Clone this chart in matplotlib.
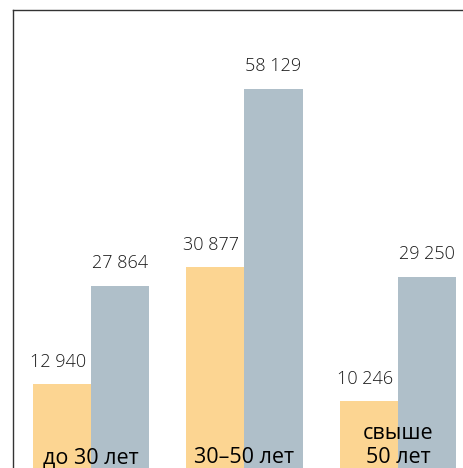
import numpy as np
import matplotlib.pyplot as plt
from matplotlib.transforms import offset_copy

plt.rcParams['font.family'] = ['Open Sans', 'DejaVu Sans']

# Data ======================================================================
groups = ["до 30 лет", "30–50 лет", "свыше\n50 лет"]
vals_orange = [12940, 30877, 10246]
vals_blue = [27864, 58129, 29250]

c_orange = "#FCD592"
c_blue = "#AFBFC9"

def fmt(v):
    return f"{v:,}".replace(",", " ")

# Figure ====================================================================
fig = plt.figure(figsize=(4.64, 4.68), dpi=100)
W, H = 464, 468
ax = fig.add_axes([13/W, 0, 1 - 13/W, (H - 10)/H])

x = np.arange(len(groups))
w = 0.378
ax.bar(x - w/2, vals_orange, width=w, color=c_orange, linewidth=0)
ax.bar(x + w/2, vals_blue, width=w, color=c_blue, linewidth=0)

ax.set_xlim(-0.508, 2.430)
ax.set_ylim(0, 70200)

for i in range(len(groups)):
    tr = offset_copy(ax.transData, fig=fig, x=-4, y=22, units='dots')
    ax.text(x[i] - w/2, vals_orange[i], fmt(vals_orange[i]), transform=tr,
            ha='center', va='center', fontsize=13, fontweight='light', color='#1a1a1a')
    tr = offset_copy(ax.transData, fig=fig, x=0, y=23, units='dots')
    ax.text(x[i] + w/2, vals_blue[i], fmt(vals_blue[i]), transform=tr,
            ha='center', va='center', fontsize=13, fontweight='light', color='#1a1a1a')

    lines = groups[i].split("\n")
    for j, ln in enumerate(reversed(lines)):
        tr = offset_copy(ax.transData, fig=fig, x=0, y=5 + 24*j, units='dots')
        ax.text(x[i], 0, ln, transform=tr, ha='center', va='baseline',
                fontsize=15.5, color='black', clip_on=False)

for s in ['right', 'bottom']:
    ax.spines[s].set_visible(False)
for s in ['top', 'left']:
    ax.spines[s].set_color('#333333')
    ax.spines[s].set_linewidth(1.0)
ax.set_xticks([])
ax.set_yticks([])

plt.savefig("out.png", dpi=100)
